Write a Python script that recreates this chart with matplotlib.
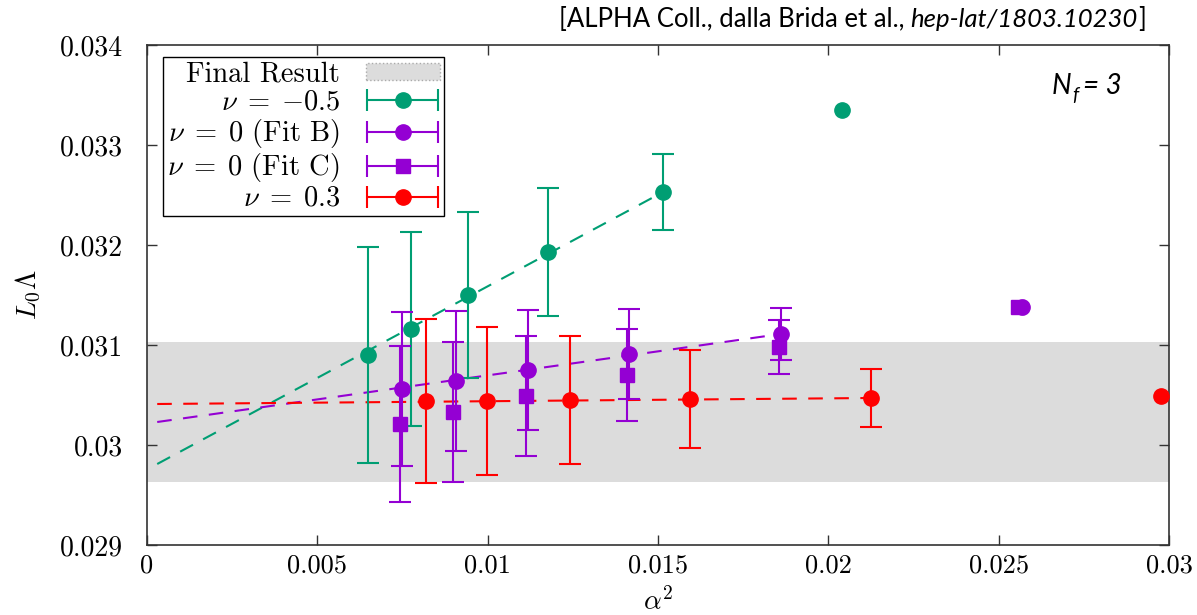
import numpy as np
import matplotlib
matplotlib.use('Agg')
import matplotlib.pyplot as plt
from matplotlib.patches import Patch
from matplotlib.container import ErrorbarContainer
from matplotlib.legend_handler import HandlerErrorbar

plt.rcParams['font.family'] = 'cmr10'
plt.rcParams['mathtext.fontset'] = 'cm'
plt.rcParams['axes.unicode_minus'] = False

# nu = -0.5
green_x = [0.00649, 0.00775, 0.00942, 0.01177, 0.01515]
green_y = [0.03090, 0.03116, 0.03150, 0.03193, 0.03253]
green_err = [0.00108, 0.00097, 0.00083, 0.00064, 0.00038]
green_excl_x = [0.0204]
green_excl_y = [0.03335]
green_fit_x = [0.0003, 0.01515]
green_fit_y = [0.02981, 0.03253]

# nu = 0 (Fit B)
fitb_x = [0.00749, 0.00907, 0.01118, 0.01415, 0.01861]
fitb_y = [0.03056, 0.03064, 0.03075, 0.03091, 0.03111]
fitb_err = [0.00077, 0.00070, 0.00060, 0.00045, 0.00026]
fitb_excl_x = [0.02568]
fitb_excl_y = [0.03138]
fitb_fit_x = [0.0003, 0.01861]
fitb_fit_y = [0.03023, 0.03111]

# nu = 0 (Fit C)
fitc_x = [0.00743, 0.00898, 0.01113, 0.01409, 0.01855]
fitc_y = [0.03021, 0.03033, 0.03049, 0.03070, 0.03098]
fitc_err = [0.00078, 0.00070, 0.00060, 0.00046, 0.00027]
fitc_excl_x = [0.02557]
fitc_excl_y = [0.03138]

# nu = 0.3
red_x = [0.00819, 0.00998, 0.01242, 0.01594, 0.02125]
red_y = [0.03044, 0.03044, 0.03045, 0.03046, 0.03047]
red_err = [0.00082, 0.00074, 0.00064, 0.00049, 0.00029]
red_excl_x = [0.02977]
red_excl_y = [0.03049]
red_fit_x = [0.0003, 0.02125]
red_fit_y = [0.03041, 0.03047]

final_value = 0.030335
final_err = 0.00070

xticks = [0, 0.005, 0.01, 0.015, 0.02, 0.025, 0.03]
xtick_labels = ['0', '0.005', '0.01', '0.015', '0.02', '0.025', '0.03']
yticks = [0.029, 0.030, 0.031, 0.032, 0.033, 0.034]
ytick_labels = ['0.029', '0.03', '0.031', '0.032', '0.033', '0.034']

GREEN = '#009e73'
PURPLE = '#9400d3'
RED = '#ff0000'
GREY = '#dcdcdc'

W, H = 1197, 615
fig = plt.figure(figsize=(W / 100, H / 100), dpi=100)
ax = fig.add_axes([147 / W, 70 / H, 1022 / W, 500 / H])

# final result band
ax.axhspan(final_value - final_err, final_value + final_err, color=GREY, lw=0, zorder=0)

# fit lines
dash = dict(lw=1.5, dashes=(7, 5.5), zorder=2)
ax.plot(green_fit_x, green_fit_y, color=GREEN, **dash)
ax.plot(fitb_fit_x, fitb_fit_y, color=PURPLE, **dash)
ax.plot(red_fit_x, red_fit_y, color=RED, **dash)

eb = dict(elinewidth=1.5, capsize=8, capthick=1.5, ms=11, ls='none', zorder=3)
ax.errorbar(green_x, green_y, yerr=green_err, fmt='o', color=GREEN, **eb)
ax.errorbar(fitb_x, fitb_y, yerr=fitb_err, fmt='o', color=PURPLE, **eb)
ax.errorbar(fitc_x, fitc_y, yerr=fitc_err, fmt='s', color=PURPLE, **dict(eb, ms=10.5))
ax.errorbar(red_x, red_y, yerr=red_err, fmt='o', color=RED, **eb)

# points left out of the fits
ax.plot(green_excl_x, green_excl_y, 'o', color=GREEN, ms=11, zorder=3)
ax.plot(fitc_excl_x, fitc_excl_y, 's', color=PURPLE, ms=10.5, zorder=3)
ax.plot(fitb_excl_x, fitb_excl_y, 'o', color=PURPLE, ms=11, zorder=3)
ax.plot(red_excl_x, red_excl_y, 'o', color=RED, ms=11, zorder=3, clip_on=False)

ax.set_xlim(0, 0.03)
ax.set_ylim(0.029, 0.034)
ax.set_xticks(xticks)
ax.set_xticklabels(xtick_labels)
ax.set_yticks(yticks)
ax.set_yticklabels(ytick_labels)
ax.tick_params(direction='in', length=7, width=1, top=True, right=True,
               labelsize=19, color='#333333')
ax.tick_params(axis='y', pad=17, labelsize=20)
ax.tick_params(axis='x', pad=6)
for s in ax.spines.values():
    s.set_color('#333333')
    s.set_linewidth(1.2)

ax.set_xlabel(r'$\alpha^2$', fontsize=20, labelpad=8)
ax.set_ylabel(r'$L_0\Lambda$', fontsize=20, labelpad=12)

# legend proxies with horizontal error bars
proxy = dict(fmt='o', ms=11, elinewidth=1.5, capsize=8, capthick=1.5)
h_final = Patch(facecolor=GREY, edgecolor='#aaaaaa', linestyle=':', lw=1)
h_green = ax.errorbar([np.nan], [np.nan], xerr=[1], color=GREEN, **proxy)
h_b = ax.errorbar([np.nan], [np.nan], xerr=[1], color=PURPLE, **proxy)
h_c = ax.errorbar([np.nan], [np.nan], xerr=[1], color=PURPLE, **dict(proxy, fmt='s', ms=10.5))
h_red = ax.errorbar([np.nan], [np.nan], xerr=[1], color=RED, **proxy)
labels = ['Final Result', r'$\nu\;=\;{-0.5}$', r'$\nu\;=\;0$ (Fit B)',
          r'$\nu\;=\;0$ (Fit C)', r'$\nu\;=\;0.3$']
leg = ax.legend([h_final, h_green, h_b, h_c, h_red], labels,
                loc='upper left', bbox_to_anchor=(16 / 1022, 1 - 12 / 500),
                borderaxespad=0, markerfirst=False, fontsize=20.5,
                handlelength=2.6, handleheight=0.5, handletextpad=0.9,
                labelspacing=0.05, borderpad=0.15, fancybox=False,
                framealpha=1, edgecolor='black',
                handler_map={ErrorbarContainer: HandlerErrorbar(xerr_size=1.25)})
leg.get_frame().set_linewidth(1)

# citation text on top, normal + italic pieces
renderer = fig.canvas.get_renderer()
sans = 'Lato'
x_r = 1146
y_base = 1 - 27 / H
fs_top = 18.5
t3 = fig.text(x_r / W, y_base, ']', family=sans, fontsize=fs_top, ha='right', va='baseline')
w3 = t3.get_window_extent(renderer).width
t2 = fig.text((x_r - w3 - 1) / W, y_base, 'hep-lat/1803.10230', family=sans, style='italic',
              fontsize=fs_top, ha='right', va='baseline')
w2 = t2.get_window_extent(renderer).width
fig.text((x_r - w3 - w2 - 6) / W, y_base, '[ALPHA Coll., dalla Brida et al.,', family=sans,
         fontsize=fs_top, ha='right', va='baseline')

# N_f = 3 label
x0 = 1052
yb = 1 - 94 / H
tn = fig.text(x0 / W, yb, 'N', family=sans, style='italic', fontsize=20, va='baseline')
wn = tn.get_window_extent(renderer).width
tf = fig.text((x0 + wn) / W, yb - 7 / H, 'f', family=sans, style='italic', fontsize=14, va='baseline')
wf = tf.get_window_extent(renderer).width
fig.text((x0 + wn + wf + 5) / W, yb, '= 3', family=sans, style='italic', fontsize=20, va='baseline')

fig.savefig('out.png', dpi=100)
